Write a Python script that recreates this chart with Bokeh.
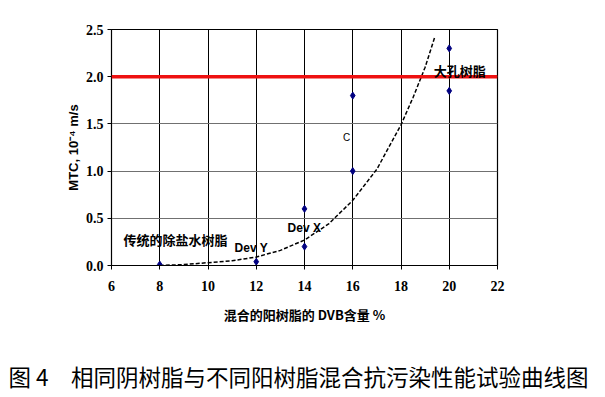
from bokeh.plotting import figure
from bokeh.models import Range1d, Label, Span, FixedTicker, CustomJSTickFormatter, Title
from bokeh.embed import file_html
from bokeh.resources import INLINE

# data
dvb_x = [8, 12, 14, 14, 16, 16, 20, 20]
mtc_y = [0.01, 0.04, 0.6, 0.2, 1.8, 1.0, 2.3, 1.85]
trend_x = [8, 9, 10, 11, 12, 13, 14, 15, 16, 17, 18, 18.5, 19, 19.4]
trend_y = [0.0, 0.01, 0.03, 0.05, 0.09, 0.16, 0.27, 0.44, 0.69, 1.02, 1.49, 1.78, 2.1, 2.42]
limit_y = 2.0
x_ticks = [6, 8, 10, 12, 14, 16, 18, 20, 22]
y_ticks = [0.0, 0.5, 1.0, 1.5, 2.0, 2.5]
labels = ["传统的除盐水树脂", "Dev Y", "Dev X", "大孔树脂", "C"]
label_x = [6.5, 11.1, 13.3, 19.36, 15.6]
label_y = [0.275, 0.19, 0.40, 2.07, 1.36]
caption = "图 4　相同阴树脂与不同阳树脂混合抗污染性能试验曲线图"

p = figure(width=605, height=397, output_backend="svg", toolbar_location=None,
           x_range=Range1d(6, 22), y_range=Range1d(0, 2.5),
           min_border_left=111, min_border_right=108, min_border_top=29, min_border_bottom=132)
p.background_fill_color = "white"
p.outline_line_color = "black"
p.outline_line_width = 1.2

p.xaxis.ticker = FixedTicker(ticks=x_ticks)
p.yaxis.ticker = FixedTicker(ticks=y_ticks)
p.yaxis.formatter = CustomJSTickFormatter(code="return tick.toFixed(1);")
for ax in (p.xaxis[0], p.yaxis[0]):
    ax.major_label_text_font = "Liberation Serif"
    ax.major_label_text_font_style = "bold"
    ax.major_label_text_font_size = "14px"
    ax.major_label_text_color = "black"
    ax.axis_line_color = "black"
    ax.major_tick_line_color = "black"
    ax.major_tick_out = 4
    ax.major_tick_in = 0
    ax.minor_tick_line_color = None
    ax.axis_label_text_font_style = "bold"
    ax.axis_label_text_color = "black"
p.xaxis.major_label_standoff = 11
p.yaxis.major_label_standoff = 4

p.xaxis.axis_label = "混合的阳树脂的 DVB含量 %"
p.xaxis.axis_label_text_font = "Noto Sans CJK SC"
p.xaxis.axis_label_text_font_size = "13px"
p.xaxis.axis_label_standoff = 11
p.yaxis.axis_label = "MTC, 10⁻⁴ m/s"
p.yaxis.axis_label_text_font = "Liberation Sans"
p.yaxis.axis_label_text_font_size = "13px"
p.yaxis.axis_label_standoff = 2

p.xgrid.grid_line_color = "black"
p.xgrid.grid_line_width = 1
p.ygrid.grid_line_color = "#707070"
p.ygrid.grid_line_width = 1.2

p.add_layout(Span(location=limit_y, dimension="width", line_color="#ee1111", line_width=3.5))

p.line(trend_x, trend_y, line_color="black", line_width=1.5, line_dash="4 2")
p.scatter(dvb_x, mtc_y, marker="diamond", size=7, color="#000080")

fonts = ["Noto Sans CJK SC", "Liberation Sans", "Liberation Sans", "Noto Sans CJK SC", "Liberation Sans"]
styles = ["bold", "bold", "bold", "bold", "normal"]
sizes = ["13px", "12px", "12px", "13px", "10px"]
for t, lx, ly, f, s, sz in zip(labels, label_x, label_y, fonts, styles, sizes):
    p.add_layout(Label(x=lx, y=ly, text=t, text_font=f, text_font_style=s,
                       text_font_size=sz, text_color="black", text_baseline="middle"))

spacer = Title(text=" ", text_font_size="13px", standoff=9)
p.add_layout(spacer, "below")
cap = Title(text=caption, text_font="Noto Sans CJK SC", text_font_size="22.5px",
            text_font_style="normal", text_color="black", align="left",
            offset=-103, standoff=10)
p.add_layout(cap, "below")

open("out.html", "w").write(file_html(p, INLINE))
